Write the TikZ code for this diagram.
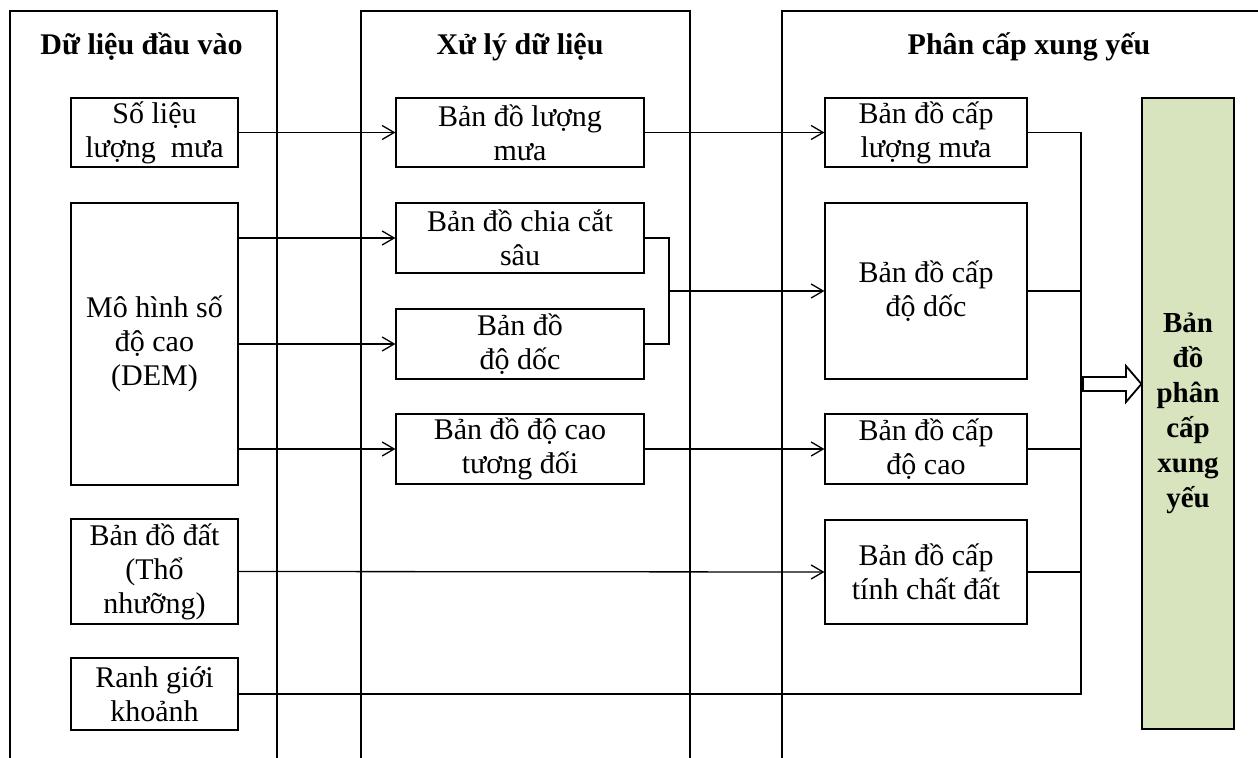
\documentclass[tikz,border=0pt]{standalone}
\usepackage{fontspec}
\setmainfont{Liberation Serif}
\usetikzlibrary{arrows.meta}
\definecolor{lgreen}{HTML}{D7E4BD}
\begin{document}
\begin{tikzpicture}[x=0.5pt,y=-0.5pt,
 frame/.style={line width=1.1pt},
 box/.style={draw, line width=0.6pt, inner sep=0pt, align=center, font=\fontsize{15}{17}\selectfont},
 head/.style={font=\fontsize{15}{17}\selectfont\bfseries, anchor=base},
 arr/.style={-{Straight Barb[length=6pt,width=7pt]}, line width=0.65pt},
 ln/.style={line width=0.65pt}]
\useasboundingbox (0,0) rectangle (1258,758);
% columns
\draw[frame] (10,760) -- (10,11) -- (277,11) -- (277,760);
\draw[frame] (361,760) -- (361,11) -- (690,11) -- (690,760);
\draw[frame] (782,760) -- (782,11) -- (1260,11);
% headers
\node[head] (h1) at (141.5,55) {Dữ liệu đầu vào};
\node[head] (h2) at (520,55) {Xử lý dữ liệu};
\node[head] (h3) at (1029,55) {Phân cấp xung yếu};
% left boxes
\node[box, minimum width=83.5pt, minimum height=34.5pt] (L1) at (154.5,132.5) {Số liệu\\lượng~ mưa};
\node[box, minimum width=83.5pt, minimum height=141pt] (L2) at (154.5,344) {Mô hình số\\độ cao\\(DEM)};
\node[box, minimum width=83.5pt, minimum height=52.5pt] (L3) at (154.5,571.5) {Bản đồ đất\\(Thổ\\nhưỡng)};
\node[box, minimum width=83.5pt, minimum height=36pt] (L4) at (154.5,694) {Ranh giới\\khoảnh};
% middle boxes
\node[box, minimum width=124pt, minimum height=34.5pt] (M1) at (520,132.5) {Bản đồ lượng\\mưa};
\node[box, minimum width=124pt, minimum height=35pt] (M2) at (520,238) {Bản đồ chia cắt\\sâu};
\node[box, minimum width=124pt, minimum height=35pt] (M3) at (520,344) {Bản đồ\\độ dốc};
\node[box, minimum width=124pt, minimum height=35pt] (M4) at (520,449) {Bản đồ độ cao\\tương đối};
% right boxes
\node[box, minimum width=101pt, minimum height=34.5pt] (R1) at (926,132.5) {Bản đồ cấp\\lượng mưa};
\node[box, minimum width=101pt, minimum height=88pt] (R2) at (926,291) {Bản đồ cấp\\độ dốc};
\node[box, minimum width=101pt, minimum height=35pt] (R3) at (926,449) {Bản đồ cấp\\độ cao};
\node[box, minimum width=101pt, minimum height=52pt] (R4) at (926,572) {Bản đồ cấp\\tính chất đất};
% result
\node[box, fill=lgreen, minimum width=46pt, minimum height=315.5pt, font=\fontsize{14.5}{17.5}\selectfont\bfseries] (G) at (1188,413.5) {Bản\\đồ\\phân\\cấp\\xung\\yếu};
% connectors
\coordinate (j) at (669,291);
\coordinate (bt) at (1081,132.5);
\coordinate (bb) at (1081,694);
\draw[arr] (L1) -- (M1);
\draw[arr] (L2.east |- M2.west) -- (M2.west);
\draw[arr] (L2.east |- M3.west) -- (M3.west);
\draw[arr] (L2.east |- M4.west) -- (M4.west);
\draw[arr] (M1) -- (R1);
\draw[ln] (M2.east) -| (j) |- (M3.east);
\draw[arr] (j) -- (R2.west);
\draw[arr] (M4) -- (R3);
\draw[arr] (L3.east) -- (R4.west);
\draw[ln] (L4.east) -- (bb) -- (bt) -- (R1.east);
\draw[ln] (R2.east) -- (R2.east -| bt);
\draw[ln] (R3.east) -- (R3.east -| bt);
\draw[ln] (R4.east) -- (R4.east -| bt);
% hollow arrow
\draw[line width=0.9pt, fill=white] (1083,377) -- (1126,377) -- (1126,366) -- (G.west |- 0,384) -- (1126,402) -- (1126,391) -- (1083,391) -- cycle;
\end{tikzpicture}
\end{document}
